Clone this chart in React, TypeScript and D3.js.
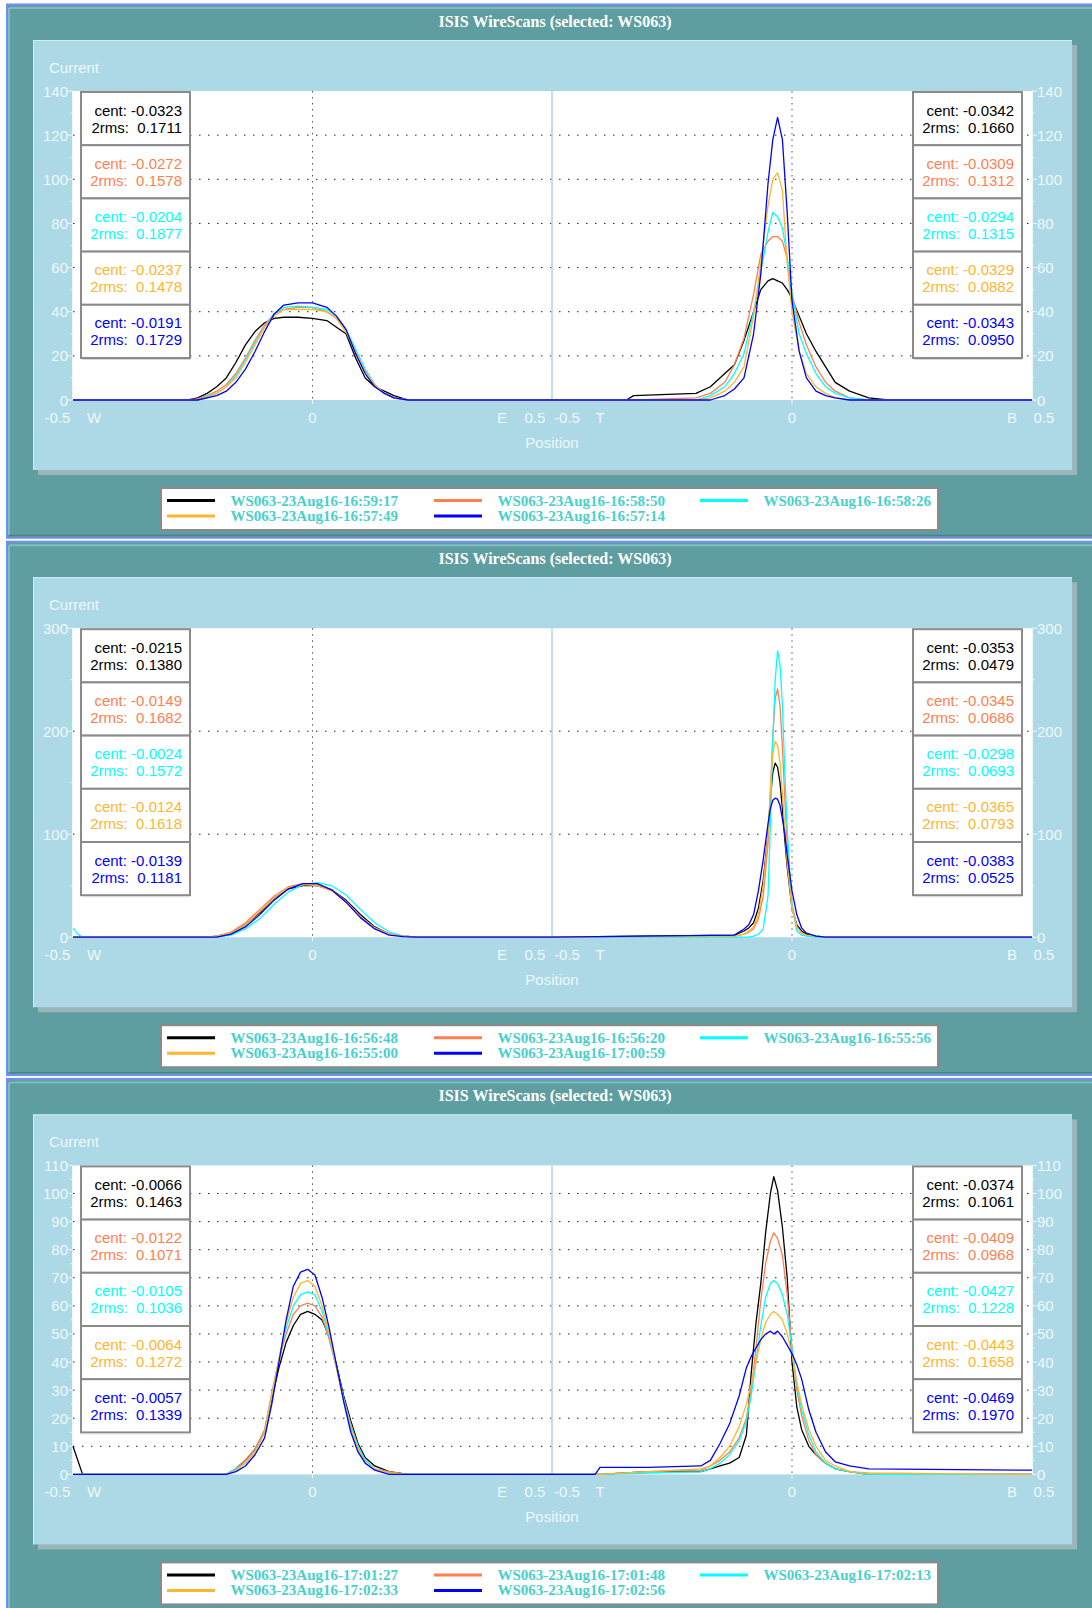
import * as d3 from "d3";

const W = 1092;
const H = 1608;
const STEP = 537.2;

const COLORS = ["#000000", "#ff7f50", "#00ffff", "#ffb52e", "#0000ff"];
const TEAL = "#5f9ea0";
const LIGHT = "#add8e6";
const PALE = "#eef8fb";
const LEGEND_TEXT = "#48d1cc";
const SANS = "'Liberation Sans', Arial, sans-serif";
const SERIF = "'Liberation Serif', 'Times New Roman', serif";

const TITLE = "ISIS WireScans (selected: WS063)";

// ---- panel 1 ----
const P1_Y_TICKS = [0, 20, 40, 60, 80, 100, 120, 140];
const P1_Y_MINOR = [10, 30, 50, 70, 90, 110, 130];
const P1_NAMES = [
  "WS063-23Aug16-16:59:17",
  "WS063-23Aug16-16:58:50",
  "WS063-23Aug16-16:58:26",
  "WS063-23Aug16-16:57:49",
  "WS063-23Aug16-16:57:14",
];
const P1_LEFT_STATS = [
  ["-0.0323", "0.1711"],
  ["-0.0272", "0.1578"],
  ["-0.0204", "0.1877"],
  ["-0.0237", "0.1478"],
  ["-0.0191", "0.1729"],
];
const P1_RIGHT_STATS = [
  ["-0.0342", "0.1660"],
  ["-0.0309", "0.1312"],
  ["-0.0294", "0.1315"],
  ["-0.0329", "0.0882"],
  ["-0.0343", "0.0950"],
];
const P1_W_POS = [-0.5, -0.26, -0.24, -0.22, -0.2, -0.18, -0.16, -0.14, -0.12, -0.1, -0.08, -0.06, -0.03, 0.0, 0.03, 0.05, 0.07, 0.09, 0.11, 0.13, 0.15, 0.17, 0.2, 0.5];
const P1_W_VALUES = [
  [0, 0, 1, 3, 6, 10, 17, 25, 31, 35, 37, 37.5, 37.5, 37, 36, 33, 30, 19, 10, 6, 4, 2, 0, 0],
  [0, 0, 0.5, 2, 4, 7, 12, 19, 27, 34, 39, 41, 42, 42, 40, 37, 31, 22, 13, 7, 3, 1, 0, 0],
  [0, 0, 0, 1.5, 3, 6, 11, 18, 26, 33, 39, 42, 42.5, 42, 41, 38, 32, 23, 14, 7, 3, 1, 0, 0],
  [0, 0, 0, 1, 3, 6, 10, 17, 25, 33, 38, 41, 41, 41, 40, 37, 31, 22, 13, 7, 3, 1, 0, 0],
  [0, 0, 0, 1, 2, 4, 8, 14, 22, 31, 39, 43, 44, 44, 42, 38, 32, 21, 12, 6, 3, 1, 0, 0],
];
const P1_T_POS = [-0.5, -0.345, -0.33, -0.2, -0.17, -0.14, -0.12, -0.1, -0.08, -0.065, -0.05, -0.04, -0.03, -0.02, -0.01, 0.0, 0.015, 0.03, 0.05, 0.07, 0.09, 0.12, 0.16, 0.2, 0.5];
const P1_T_VALUES = [
  [0, 0, 2, 3, 6, 12, 16, 27, 40, 50, 54, 55, 54, 53, 50, 46, 38, 30, 22, 15, 8, 4, 1, 0, 0],
  [0, 0, 0, 1, 3, 8, 16, 28, 48, 66, 72, 74, 74, 72, 64, 48, 35, 25, 15, 8, 4, 1, 0, 0, 0],
  [0, 0, 0, 0, 2, 6, 12, 21, 40, 58, 76, 85, 83, 78, 65, 48, 30, 21, 12, 6, 3, 1, 0, 0, 0],
  [0, 0, 0, 0, 1, 4, 8, 15, 38, 62, 88, 100, 103, 95, 62, 40, 22, 12, 6, 3, 1, 0, 0, 0, 0],
  [0, 0, 0, 0, 0, 2, 5, 10, 30, 57, 98, 118, 128, 118, 85, 45, 22, 10, 4, 2, 1, 0, 0, 0, 0],
];

// ---- panel 2 ----
const P2_Y_TICKS = [0, 100, 200, 300];
const P2_Y_MINOR = [50, 150, 250];
const P2_NAMES = [
  "WS063-23Aug16-16:56:48",
  "WS063-23Aug16-16:56:20",
  "WS063-23Aug16-16:55:56",
  "WS063-23Aug16-16:55:00",
  "WS063-23Aug16-17:00:59",
];
const P2_LEFT_STATS = [
  ["-0.0215", "0.1380"],
  ["-0.0149", "0.1682"],
  ["-0.0024", "0.1572"],
  ["-0.0124", "0.1618"],
  ["-0.0139", "0.1181"],
];
const P2_RIGHT_STATS = [
  ["-0.0353", "0.0479"],
  ["-0.0345", "0.0686"],
  ["-0.0298", "0.0693"],
  ["-0.0365", "0.0793"],
  ["-0.0383", "0.0525"],
];
const P2_W_POS = [-0.5, -0.49, -0.48, -0.22, -0.2, -0.17, -0.14, -0.11, -0.08, -0.05, -0.02, 0.01, 0.04, 0.07, 0.1, 0.13, 0.16, 0.19, 0.22, 0.5];
const P2_W_VALUES = [
  [0, 0, 0, 0, 1, 4, 12, 24, 38, 47, 50, 50, 46, 36, 22, 10, 3, 1, 0, 0],
  [0, 0, 0, 0, 1, 5, 14, 27, 40, 49, 52, 51, 46, 35, 20, 9, 3, 1, 0, 0],
  [9, 3, 0, 0, 0, 2, 8, 18, 32, 44, 51, 53, 50, 41, 27, 14, 5, 1, 0, 0],
  [0, 0, 0, 0, 1, 4, 12, 25, 38, 48, 51, 50, 45, 34, 20, 9, 3, 1, 0, 0],
  [0, 0, 0, 0, 0, 3, 10, 22, 36, 47, 52, 52, 46, 34, 19, 8, 2, 0.5, 0, 0],
];
const P2_T_POS = [-0.5, -0.12, -0.1, -0.09, -0.08, -0.07, -0.06, -0.05, -0.045, -0.04, -0.035, -0.03, -0.025, -0.02, -0.015, -0.01, 0.0, 0.01, 0.02, 0.03, 0.05, 0.07, 0.5];
const P2_T_VALUES = [
  [0, 2, 6, 9, 14, 28, 55, 100, 135, 160, 169, 165, 150, 125, 95, 68, 28, 12, 6, 3, 1, 0, 0],
  [0, 1, 3, 5, 8, 18, 40, 90, 140, 195, 232, 241, 225, 185, 135, 90, 32, 10, 4, 2, 1, 0, 0],
  [0, 0, 0, 0, 1, 3, 8, 40, 110, 190, 250, 278, 265, 225, 160, 105, 30, 6, 2, 1, 0, 0, 0],
  [0, 1, 3, 6, 10, 22, 50, 100, 145, 178, 190, 186, 170, 140, 105, 72, 28, 10, 4, 2, 1, 0, 0],
  [0, 2, 8, 12, 22, 45, 75, 110, 125, 133, 135, 134, 128, 115, 100, 80, 45, 22, 9, 4, 1, 0, 0],
];

// ---- panel 3 ----
const P3_Y_TICKS = [0, 10, 20, 30, 40, 50, 60, 70, 80, 90, 100, 110];
const P3_Y_MINOR = [5, 15, 25, 35, 45, 55, 65, 75, 85, 95, 105];
const P3_NAMES = [
  "WS063-23Aug16-17:01:27",
  "WS063-23Aug16-17:01:48",
  "WS063-23Aug16-17:02:13",
  "WS063-23Aug16-17:02:33",
  "WS063-23Aug16-17:02:56",
];
const P3_LEFT_STATS = [
  ["-0.0066", "0.1463"],
  ["-0.0122", "0.1071"],
  ["-0.0105", "0.1036"],
  ["-0.0064", "0.1272"],
  ["-0.0057", "0.1339"],
];
const P3_RIGHT_STATS = [
  ["-0.0374", "0.1061"],
  ["-0.0409", "0.0968"],
  ["-0.0427", "0.1228"],
  ["-0.0443", "0.1658"],
  ["-0.0469", "0.1970"],
];
const P3_W_POS = [-0.5, -0.48, -0.18, -0.16, -0.14, -0.12, -0.1, -0.085, -0.07, -0.055, -0.04, -0.025, -0.01, 0.005, 0.02, 0.035, 0.05, 0.065, 0.08, 0.095, 0.11, 0.13, 0.16, 0.2, 0.5];
const P3_W_VALUES = [
  [10, 0, 0, 2, 5, 9, 15, 27, 38, 47, 53, 57, 58, 57, 55, 49, 39, 28, 19, 11, 6, 3, 1, 0, 0],
  [0, 0, 0, 2, 5, 9, 16, 29, 41, 50, 57, 60, 61, 60, 56, 48, 38, 27, 18, 10, 5, 2, 1, 0, 0],
  [0, 0, 0, 2, 4, 8, 15, 28, 41, 52, 60, 64, 65, 64, 58, 49, 38, 27, 17, 10, 5, 2, 0.5, 0, 0],
  [0, 0, 0, 1.5, 4, 8, 15, 28, 41, 54, 63, 68, 69, 67, 60, 50, 38, 26, 16, 9, 4, 2, 0.5, 0, 0],
  [0, 0, 0, 1, 3, 7, 13, 25, 40, 55, 67, 72, 73, 71, 63, 52, 39, 26, 15, 8, 4, 1.5, 0, 0, 0],
];
const P3_T_POS = [-0.5, -0.41, -0.4, -0.3, -0.19, -0.17, -0.15, -0.13, -0.11, -0.095, -0.085, -0.075, -0.065, -0.055, -0.045, -0.038, -0.03, -0.02, -0.01, 0.0, 0.01, 0.02, 0.035, 0.05, 0.07, 0.09, 0.12, 0.16, 0.5];
const P3_T_VALUES = [
  [0, 0, 0, 1, 1, 2, 3, 4, 6, 14, 36, 54, 68, 86, 100, 106, 101, 88, 70, 40, 24, 16, 10, 7, 4, 2, 1, 0, 0],
  [0, 0, 0, 1, 1.5, 3, 5, 8, 13, 20, 30, 45, 62, 75, 83, 86, 84, 78, 64, 45, 30, 21, 12, 7, 4, 2, 1, 0, 0],
  [0, 0, 0, 0.5, 1, 2, 4, 7, 12, 19, 28, 40, 53, 63, 68, 69, 68, 64, 57, 45, 32, 23, 14, 8, 4, 2, 1, 0, 0],
  [0, 0, 0, 1, 2, 3, 6, 10, 17, 25, 32, 40, 48, 54, 57, 58, 57, 55, 50, 43, 33, 25, 16, 10, 5, 3, 1, 0.5, 0],
  [0, 0, 2.5, 2.5, 3, 5, 11, 18, 28, 38, 42, 45, 48, 50, 51, 50, 51, 49, 46, 43, 39, 34, 23, 15, 8, 4.5, 3, 2, 1.5],
];

const PANELS = [
  { yMax: 140, yTicks: P1_Y_TICKS, yMinor: P1_Y_MINOR, names: P1_NAMES, leftStats: P1_LEFT_STATS, rightStats: P1_RIGHT_STATS, wPos: P1_W_POS, wVals: P1_W_VALUES, tPos: P1_T_POS, tVals: P1_T_VALUES },
  { yMax: 300, yTicks: P2_Y_TICKS, yMinor: P2_Y_MINOR, names: P2_NAMES, leftStats: P2_LEFT_STATS, rightStats: P2_RIGHT_STATS, wPos: P2_W_POS, wVals: P2_W_VALUES, tPos: P2_T_POS, tVals: P2_T_VALUES },
  { yMax: 110, yTicks: P3_Y_TICKS, yMinor: P3_Y_MINOR, names: P3_NAMES, leftStats: P3_LEFT_STATS, rightStats: P3_RIGHT_STATS, wPos: P3_W_POS, wVals: P3_W_VALUES, tPos: P3_T_POS, tVals: P3_T_VALUES },
];

type Cfg = (typeof PANELS)[number];

// plot frame inside a panel (panel-relative)
const PL = 73;
const PM = 552;
const PR = 1032;
const PT = 91;
const PB = 400;

function StatBox({ x, y, color, stat }: { x: number; y: number; color: string; stat: string[] }) {
  const w = 109;
  const h = 53.2;
  return (
    <g>
      <rect x={x} y={y} width={w} height={h} fill="#fff" stroke="#8a8a8a" strokeWidth={2} />
      <line x1={x + 1} x2={x + w} y1={y + h + 1.5} y2={y + h + 1.5} stroke="#d8d8d8" strokeWidth={1} />
      <text x={x + w - 8} y={y + 18} textAnchor="end" dominantBaseline="central" fill={color} fontSize={15} fontFamily={SANS} style={{ whiteSpace: "pre" }}>
        {`cent: ${stat[0]}`}
      </text>
      <text x={x + w - 8} y={y + 35} textAnchor="end" dominantBaseline="central" fill={color} fontSize={15} fontFamily={SANS} style={{ whiteSpace: "pre" }}>
        {`2rms:  ${stat[1]}`}
      </text>
    </g>
  );
}

function Panel({ cfg, oy }: { cfg: Cfg; oy: number }) {
  const xL = d3.scaleLinear().domain([-0.5, 0.5]).range([PL, PM]);
  const xR = d3.scaleLinear().domain([-0.5, 0.5]).range([PM, PR]);
  const y = d3.scaleLinear().domain([0, cfg.yMax]).range([oy + PB, oy + PT]);

  const path = (x: d3.ScaleLinear<number, number>, pos: number[], vals: number[]) =>
    d3
      .line<number>()
      .x((_, i) => x(pos[i]))
      .y((v) => y(v))(vals) ?? "";

  const grid = cfg.yTicks.filter((t) => t > 0 && t < cfg.yMax);
  const labelY = oy + 417;
  const legendCols = [167, 434, 700];
  const legendRows = [oy + 500.5, oy + 516];

  return (
    <g>
      {/* outer frame */}
      <rect x={7} y={oy + 4.5} width={1100} height={533.3} fill={TEAL} stroke="#6f8ff2" strokeWidth={2} />
      <line x1={9} x2={1092} y1={oy + 8} y2={oy + 8} stroke="#7fbcbe" strokeWidth={2} />
      <line x1={9} x2={9} y1={oy + 8} y2={oy + 535} stroke="#7fbcbe" strokeWidth={2} />
      <line x1={9} x2={1092} y1={oy + 535.5} y2={oy + 535.5} stroke="#4a8385" strokeWidth={1.5} />

      <text x={555} y={oy + 21} textAnchor="middle" dominantBaseline="central" fill="#fff" fontSize={16} fontWeight="bold" fontFamily={SERIF}>
        {TITLE}
      </text>

      {/* inner light panel with shadow */}
      <rect x={38} y={oy + 45} width={1039} height={430} fill="#9ab6b8" />
      <rect x={33} y={oy + 40} width={1039} height={430} fill={LIGHT} />
      <line x1={33} x2={1072} y1={oy + 40.5} y2={oy + 40.5} stroke="#d2ecf3" strokeWidth={1} />
      <line x1={33.5} x2={33.5} y1={oy + 40} y2={oy + 470} stroke="#d2ecf3" strokeWidth={1} />

      <text x={49} y={oy + 67} dominantBaseline="central" fill={PALE} fontSize={15} fontFamily={SANS}>
        Current
      </text>

      {/* plot area */}
      <rect x={PL} y={oy + PT} width={PR - PL} height={PB - PT} fill="#fff" />

      {/* y axes */}
      <line x1={PL - 0.5} x2={PL - 0.5} y1={oy + PT} y2={oy + PB} stroke={PALE} />
      <line x1={PR + 0.5} x2={PR + 0.5} y1={oy + PT} y2={oy + PB} stroke={PALE} />
      {cfg.yTicks.map((t) => (
        <g key={`t${t}`}>
          <line x1={PL - 5} x2={PL} y1={y(t)} y2={y(t)} stroke={PALE} />
          <line x1={PR} x2={PR + 5} y1={y(t)} y2={y(t)} stroke={PALE} />
          <text x={PL - 5} y={y(t)} textAnchor="end" dominantBaseline="central" fill={PALE} fontSize={15} fontFamily={SANS}>
            {t}
          </text>
          <text x={PR + 5} y={y(t)} textAnchor="start" dominantBaseline="central" fill={PALE} fontSize={15} fontFamily={SANS}>
            {t}
          </text>
        </g>
      ))}
      {cfg.yMinor.map((t) => (
        <g key={`m${t}`}>
          <line x1={PL - 2.5} x2={PL} y1={y(t)} y2={y(t)} stroke={PALE} />
          <line x1={PR} x2={PR + 2.5} y1={y(t)} y2={y(t)} stroke={PALE} />
        </g>
      ))}

      {/* grid */}
      {grid.map((t) => (
        <line key={`g${t}`} x1={PL} x2={PR} y1={y(t)} y2={y(t)} stroke="#222" strokeWidth={1} strokeDasharray="1.5 7.5" />
      ))}
      <line x1={xL(0)} x2={xL(0)} y1={oy + PT} y2={oy + PB} stroke="#555" strokeDasharray="1.5 4.5" />
      <line x1={xR(0)} x2={xR(0)} y1={oy + PT} y2={oy + PB} stroke="#555" strokeDasharray="1.5 4.5" />
      <line x1={PM} x2={PM} y1={oy + PT} y2={oy + PB + 2} stroke={LIGHT} strokeWidth={1.5} />
      <line x1={xL(0)} x2={xL(0)} y1={oy + PB} y2={oy + PB + 4} stroke={PALE} />
      <line x1={xR(0)} x2={xR(0)} y1={oy + PB} y2={oy + PB + 4} stroke={PALE} />

      {/* profiles */}
      {COLORS.map((c, i) => (
        <g key={`s${i}`} fill="none" stroke={c} strokeWidth={1.3} strokeLinejoin="round">
          <path d={path(xL, cfg.wPos, cfg.wVals[i])} />
          <path d={path(xR, cfg.tPos, cfg.tVals[i])} />
        </g>
      ))}

      {/* stat boxes */}
      {cfg.leftStats.map((s, i) => (
        <StatBox key={`l${i}`} x={81} y={oy + 92 + i * 53.2} color={COLORS[i]} stat={s} />
      ))}
      {cfg.rightStats.map((s, i) => (
        <StatBox key={`r${i}`} x={913} y={oy + 92 + i * 53.2} color={COLORS[i]} stat={s} />
      ))}

      {/* x labels */}
      {[
        { x: xL(-0.5) - 15.5, t: "-0.5" },
        { x: xL(-0.5) + 21, t: "W" },
        { x: xL(0), t: "0" },
        { x: xL(0.5) - 50, t: "E" },
        { x: xL(0.5) - 17, t: "0.5" },
        { x: xR(-0.5) + 15, t: "-0.5" },
        { x: xR(-0.5) + 48, t: "T" },
        { x: xR(0), t: "0" },
        { x: xR(0.5) - 20, t: "B" },
        { x: xR(0.5) + 12, t: "0.5" },
      ].map((d, i) => (
        <text key={`x${i}`} x={d.x} y={labelY} textAnchor="middle" dominantBaseline="central" fill={PALE} fontSize={15} fontFamily={SANS}>
          {d.t}
        </text>
      ))}
      <text x={PM} y={oy + 442} textAnchor="middle" dominantBaseline="central" fill={PALE} fontSize={15} fontFamily={SANS}>
        Position
      </text>

      {/* legend */}
      <rect x={161} y={oy + 488} width={777} height={42} fill="#fff" stroke="#8a8a8a" strokeWidth={2} />
      {cfg.names.map((n, i) => {
        const col = i < 3 ? i : i - 3;
        const row = i < 3 ? 0 : 1;
        const lx = legendCols[col];
        const ly = legendRows[row];
        return (
          <g key={`lg${i}`}>
            <line x1={lx} x2={lx + 48} y1={ly} y2={ly} stroke={COLORS[i]} strokeWidth={3} />
            <text x={lx + 63.5} y={ly} dominantBaseline="central" fill={LEGEND_TEXT} fontSize={15} fontWeight="bold" fontFamily={SERIF}>
              {n}
            </text>
          </g>
        );
      })}
    </g>
  );
}

export default function App() {
  return (
    <div style={{ position: "absolute", left: 0, top: 0 }}>
      <svg width={W} height={H} viewBox={`0 0 ${W} ${H}`} style={{ display: "block", background: "#fff" }}>
        {PANELS.map((cfg, i) => (
          <Panel key={i} cfg={cfg} oy={i * STEP} />
        ))}
      </svg>
    </div>
  );
}
